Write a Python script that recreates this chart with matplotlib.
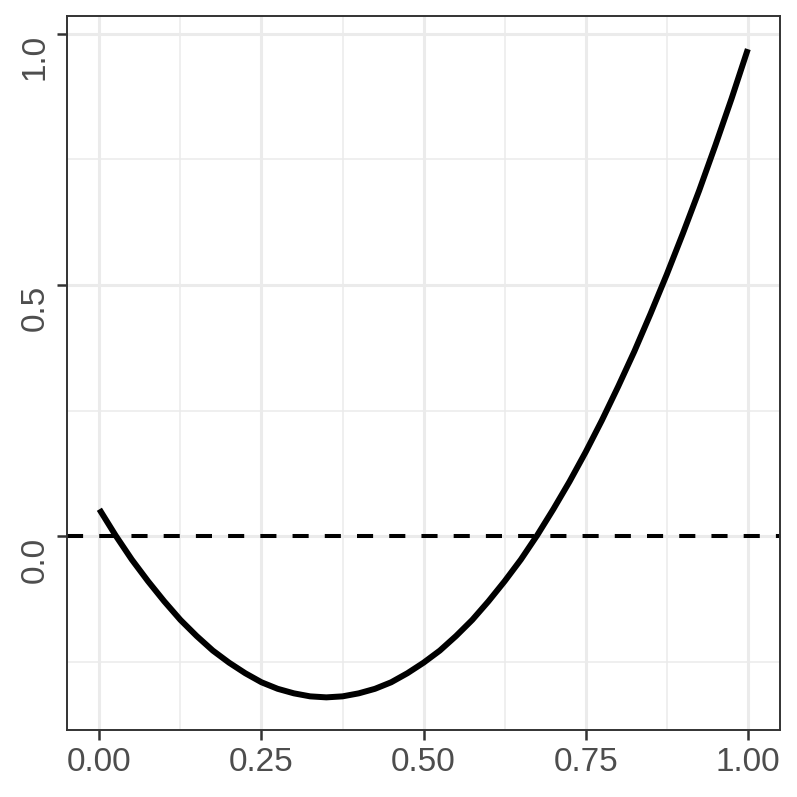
import numpy as np
import matplotlib
matplotlib.use("Agg")
import matplotlib.pyplot as plt

# values
x_vals = [0.000, 0.025, 0.050, 0.075, 0.100, 0.125, 0.150, 0.175, 0.200, 0.225,
          0.250, 0.275, 0.300, 0.325, 0.350, 0.375, 0.400, 0.425, 0.450, 0.475,
          0.500, 0.525, 0.550, 0.575, 0.600, 0.625, 0.650, 0.675, 0.700, 0.725,
          0.750, 0.775, 0.800, 0.825, 0.850, 0.875, 0.900, 0.925, 0.950, 0.975, 1.000]
y_vals = [0.054, 0.002, -0.046, -0.089, -0.129, -0.166, -0.198, -0.227, -0.251, -0.272,
          -0.290, -0.303, -0.312, -0.318, -0.320, -0.318, -0.312, -0.303, -0.290, -0.272,
          -0.251, -0.227, -0.198, -0.166, -0.129, -0.089, -0.046, 0.002, 0.054, 0.109,
          0.168, 0.231, 0.298, 0.368, 0.443, 0.521, 0.603, 0.688, 0.778, 0.871, 0.969]

x_ticks = [0.00, 0.25, 0.50, 0.75, 1.00]
x_labels = ["0.00", "0.25", "0.50", "0.75", "1.00"]
y_ticks = [0.0, 0.5, 1.0]
y_labels = ["0.0", "0.5", "1.0"]

plt.rcParams['font.family'] = ['Liberation Sans', 'DejaVu Sans']

fig = plt.figure(figsize=(7.97, 7.97), dpi=100)
ax = fig.add_axes([0.084, 0.084, 0.895, 0.896])

# grid like theme_bw
for v in [0.125, 0.375, 0.625, 0.875]:
    ax.axvline(v, color='#EBEBEB', lw=1.1, zorder=0)
for v in [-0.25, 0.25, 0.75]:
    ax.axhline(v, color='#EBEBEB', lw=1.1, zorder=0)
for v in x_ticks:
    ax.axvline(v, color='#EBEBEB', lw=2.2, zorder=0)
for v in y_ticks:
    ax.axhline(v, color='#EBEBEB', lw=2.2, zorder=0)

ax.axhline(0, color='black', lw=2.9, linestyle=(0, (4, 4)), zorder=2)
ax.plot(x_vals, y_vals, color='black', lw=4.3, zorder=3, solid_capstyle='butt')

ax.set_xlim(-0.05, 1.05)
ax.set_ylim(-0.385, 1.035)
ax.set_xticks(x_ticks)
ax.set_xticklabels(x_labels)
ax.set_yticks(y_ticks)
ax.set_yticklabels(y_labels, rotation=90, va='top')

ax.tick_params(axis='both', labelsize=24, labelcolor='#4D4D4D', color='#333333',
               length=7, width=1.8, pad=5)
for s in ax.spines.values():
    s.set_color('#333333')
    s.set_linewidth(1.4)

fig.savefig("out.png", dpi=100)
